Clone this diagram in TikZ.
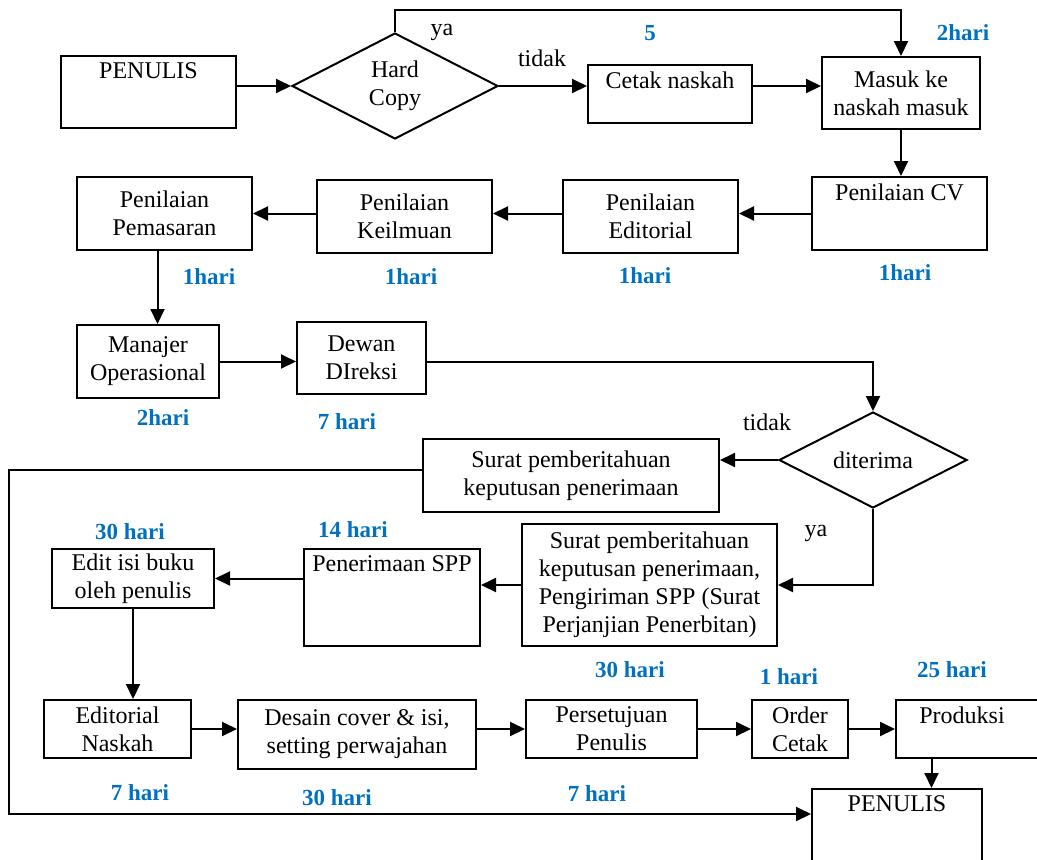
\documentclass[tikz,border=0pt]{standalone}
\usepackage{fontspec}
\setmainfont{Liberation Serif}
\usepackage{tikz}
\usetikzlibrary{shapes.geometric,arrows.meta,calc}
\definecolor{harib}{RGB}{0,112,192}

\begin{document}
\begin{tikzpicture}[x=1pt,y=-1pt,line width=2pt,
  every node/.style={font=\fontsize{24}{28}\selectfont},
  box/.style={draw,rectangle,inner sep=2pt,align=center},
  toptxt/.style={anchor=north,inner sep=0pt,yshift=-7pt},
  dec/.style={draw,diamond,aspect=2,inner sep=0pt,align=center},
  arr/.style={-{Triangle[length=15pt,width=14pt]}},
  hari/.style={text=harib,font=\fontsize{23}{28}\selectfont\bfseries},
  ket/.style={inner sep=0pt}]
\useasboundingbox (0,0) rectangle (1037,860);
\clip (0,0) rectangle (1037,860);
\node[box,minimum width=175pt,minimum height=72pt,label={[toptxt]north:PENULIS}] (pen1) at (148.5,92) {};
\node[dec,minimum width=206pt,minimum height=106pt] (hard) at (395,86) {Hard\\Copy};
\node[box,minimum width=164pt,minimum height=58pt,label={[toptxt]north:Cetak naskah}] (cetak) at (670,94) {};
\node[box,minimum width=158pt,minimum height=72pt] (masuk) at (901,93) {Masuk ke\\naskah masuk};
\node[box,minimum width=175pt,minimum height=73pt,label={[toptxt]north:Penilaian CV}] (cv) at (899.5,213.5) {};
\node[box,minimum width=175pt,minimum height=73pt] (editorial) at (650.5,216.5) {Penilaian\\Editorial};
\node[box,minimum width=175pt,minimum height=73pt] (keilmuan) at (404.5,216.5) {Penilaian\\Keilmuan};
\node[box,minimum width=175pt,minimum height=73pt] (pemasaran) at (164.5,213.5) {Penilaian\\Pemasaran};
\node[box,minimum width=142pt,minimum height=73pt] (manajer) at (148,361.5) {Manajer\\Operasional};
\node[box,minimum width=129pt,minimum height=72pt] (dewan) at (361.5,358) {Dewan\\DIreksi};
\node[dec,minimum width=188pt,minimum height=96pt] (diterima) at (873,460) {diterima};
\node[box,minimum width=296pt,minimum height=73pt] (suratno) at (571,475.5) {Surat pemberitahuan\\keputusan penerimaan};
\node[box,minimum width=255pt,minimum height=122pt] (suratya) at (649.5,585) {Surat pemberitahuan\\keputusan penerimaan,\\Pengiriman SPP (Surat\\Perjanjian Penerbitan)};
\node[box,minimum width=176pt,minimum height=97pt,label={[toptxt]north:Penerimaan SPP}] (spp) at (392,597.5) {};
\node[box,minimum width=162pt,minimum height=59pt] (edit) at (133,578.5) {Edit isi buku\\oleh penulis};
\node[box,minimum width=147pt,minimum height=58pt] (ednaskah) at (117.5,729) {Editorial\\Naskah};
\node[box,minimum width=238pt,minimum height=69pt] (desain) at (357,734.5) {Desain cover \& isi,\\setting perwajahan};
\node[box,minimum width=171pt,minimum height=58pt] (setuju) at (611.5,729) {Persetujuan\\Penulis};
\node[box,minimum width=96pt,minimum height=58pt] (order) at (800,729) {Order\\Cetak};
\node[box,minimum width=144pt,minimum height=58pt,label={[toptxt,xshift=-6pt]north:Produksi}] (produksi) at (968,729) {};
\node[box,minimum width=170pt,minimum height=91pt,label={[toptxt]north:PENULIS}] (pen2) at (897,834.5) {};
\coordinate (balik) at (9,814);
\coordinate (prodbawah) at ($(produksi.south west)!0.25!(produksi.south east)$);
\draw[arr] (pen1.east |- hard.west) -- (hard.west);
\draw[arr] (hard.east) -- (hard.east -| cetak.west);
\draw[arr] (hard.east -| cetak.east) -- (hard.east -| masuk.west);
\draw[arr] (hard.north) -- ++(0,-22) -| (masuk.north);
\draw[arr] (masuk.south) -- (masuk.south |- cv.north);
\draw[arr] (cv.west) -- (cv.west -| editorial.east);
\draw[arr] (editorial.west |- cv.west) -- (keilmuan.east |- cv.west);
\draw[arr] (keilmuan.west |- pemasaran.east) -- (pemasaran.east);
\draw[arr] ($(pemasaran.south)+(-7,0)$) -- ($(pemasaran.south |- manajer.north)+(-7,0)$);
\draw[arr] (manajer.east) -- (manajer.east -| dewan.west);
\draw[arr] (dewan.east |- manajer.east) -| (diterima.north);
\draw[arr] (diterima.west) -- (diterima.west -| suratno.east);
\draw[arr] (diterima.south) |- (suratya.east);
\draw[arr] (suratya.west) -- (suratya.west -| spp.east);
\draw[arr] (edit.east -| spp.west) -- (edit.east);
\draw[arr] (edit.south) -- (edit.south |- ednaskah.north);
\draw[arr] (ednaskah.east) -- (ednaskah.east -| desain.west);
\draw[arr] (desain.east |- setuju.west) -- (setuju.west);
\draw[arr] (setuju.east) -- (order.west);
\draw[arr] (order.east) -- (produksi.west);
\draw[arr] (prodbawah) -- (prodbawah |- pen2.north);
\draw[arr] (suratno.west |- 0,470) -| (balik) -- (balik -| pen2.west);
\node[ket] (ya1) at (442,32) {ya};
\node[ket] (tidak1) at (542,58) {tidak};
\node[ket] (tidak2) at (767,422) {tidak};
\node[ket] (ya2) at (816,533) {ya};
\node[hari] (h1) at (650,33) {5};
\node[hari] (h2) at (963,33) {2hari};
\node[hari] (h3) at (905,273) {1hari};
\node[hari] (h4) at (645,276) {1hari};
\node[hari] (h5) at (411,277) {1hari};
\node[hari] (h6) at (209,277) {1hari};
\node[hari] (h7) at (163,418) {2hari};
\node[hari] (h8) at (347,422) {7 hari};
\node[hari] (h9) at (130,532) {30 hari};
\node[hari] (h10) at (353,530) {14 hari};
\node[hari] (h11) at (630,670) {30 hari};
\node[hari] (h12) at (789,677) {1 hari};
\node[hari] (h13) at (952,670) {25 hari};
\node[hari] (h14) at (140,793) {7 hari};
\node[hari] (h15) at (337,798) {30 hari};
\node[hari] (h16) at (597,794) {7 hari};
\end{tikzpicture}
\end{document}
